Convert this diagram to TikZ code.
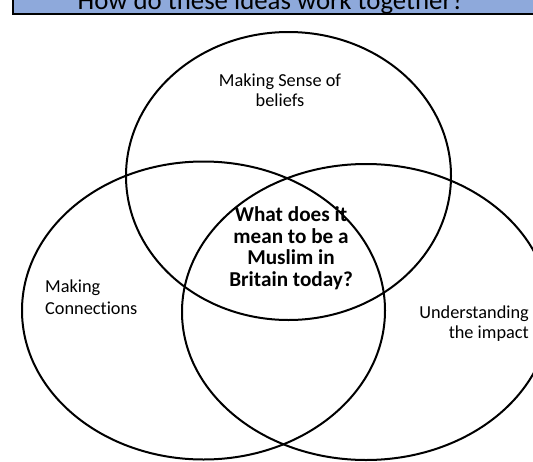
\documentclass[tikz,border=0pt]{standalone}
\usepackage{fontspec}
\setmainfont{Carlito}[Ligatures=NoCommon]
\definecolor{hdrblue}{HTML}{8EA9DB}
\tikzset{
  venn/.style={draw=black, line width=2pt},
  lbl/.style={inner sep=0pt, font=\fontsize{18.3}{20.5}\selectfont},
  boldlbl/.style={inner sep=0pt, align=center, font=\bfseries\fontsize{21.2}{21.5}\selectfont},
}
\begin{document}
\begin{tikzpicture}[x=1pt,y=-1pt]
\useasboundingbox (0,0) rectangle (533,461);
\clip (0,0) rectangle (533,461);
% header bar
\draw[fill=hdrblue, line width=2.3pt] (13,-20) rectangle (560,13.8);
\node[anchor=base, inner sep=0pt, font=\fontsize{26.8}{30}\selectfont] (title) at (271,9.3) {How do these ideas work together?};
% ellipses
\draw[venn] (288.5,176) ellipse [x radius=162.5, y radius=144];
\draw[venn] (203.5,310.5) ellipse [x radius=181.5, y radius=149];
\draw[venn] (366,312) ellipse [x radius=184, y radius=148];
% labels
\node[lbl, anchor=base] (sense1) at (280,86) {Making Sense of};
\node[lbl, anchor=base] (sense2) at (280,106) {beliefs};
\node[lbl, anchor=base west] (conn1) at (45,292.7) {Making};
\node[lbl, anchor=base west] (conn2) at (45,314) {Connections};
\node[lbl, anchor=base east] (imp1) at (529,318.3) {Understanding};
\node[lbl, anchor=base east] (imp2) at (529,338) {the impact};
\node[boldlbl, anchor=base] (q1) at (291,221.7) {What does it};
\node[boldlbl, anchor=base] (q2) at (291,243.3) {mean to be a};
\node[boldlbl, anchor=base] (q3) at (291,264.3) {Muslim in};
\node[boldlbl, anchor=base] (q4) at (291,286) {Britain today?};
\end{tikzpicture}
\end{document}
